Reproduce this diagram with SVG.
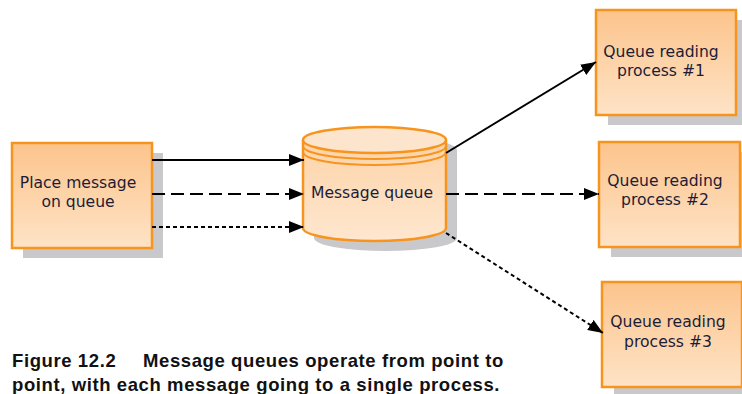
<svg xmlns="http://www.w3.org/2000/svg" width="742" height="394" viewBox="0 0 742 394">
<defs>
<linearGradient id="g" x1="0" y1="0" x2="0" y2="1">
<stop offset="0" stop-color="#fcc48c"/>
<stop offset="1" stop-color="#fee3c6"/>
</linearGradient>
<linearGradient id="gc" x1="0" y1="0" x2="0" y2="1">
<stop offset="0" stop-color="#fdd3a8"/>
<stop offset="1" stop-color="#fee7cf"/>
</linearGradient>
<marker id="ah" viewBox="0 0 15 12" refX="15" refY="6" markerWidth="15" markerHeight="12" markerUnits="userSpaceOnUse" orient="auto">
<path d="M0,0 L15,6 L0,12 z" fill="#000"/>
</marker>
</defs>
<style>
.box{fill:url(#g);stroke:#f7941d;stroke-width:2.5}
.sh{fill:#c9c9cb}
.lbl{font-family:"DejaVu Sans","Liberation Sans",sans-serif;font-size:15.6px;fill:#1c1c36;text-anchor:middle}
.ln{stroke:#000;stroke-width:2;fill:none;marker-end:url(#ah)}
.dash{stroke-dasharray:13 6}
.dot{stroke-dasharray:4 3}
.cap{font-family:"Liberation Sans",Arial,sans-serif;font-size:18.5px;font-weight:bold;letter-spacing:0.6px;fill:#111}
</style>
<rect width="742" height="394" fill="#fff"/>
<g id="place">
<rect class="sh" x="23" y="153" width="140" height="105"/>
<rect class="box" x="12" y="143" width="140" height="105"/>
<text class="lbl" x="78" y="188">Place message</text>
<text class="lbl" x="78" y="207">on queue</text>
</g>
<g id="queue">
<path class="sh" d="M314,150 a71.5,13 0 0 1 143,0 v88 a71.5,13 0 0 1 -143,0 z"/>
<path d="M303,140 v88 a71.5,13 0 0 0 143,0 v-88" fill="url(#gc)" stroke="#f7941d" stroke-width="2.5"/>
<ellipse cx="374.5" cy="140" rx="71.5" ry="13" fill="#fde5cd" stroke="#f7941d" stroke-width="2.5"/>
<path d="M303,146 a71.5,13 0 0 0 143,0 M303,152 a71.5,13 0 0 0 143,0" fill="none" stroke="#f7941d" stroke-width="2"/>
<text class="lbl" x="372" y="198">Message queue</text>
</g>
<g id="reader1">
<rect class="sh" x="608" y="20" width="140" height="105"/>
<rect class="box" x="596" y="10" width="140" height="105"/>
<text class="lbl" x="661" y="57">Queue reading</text>
<text class="lbl" x="661" y="76">process #1</text>
</g>
<g id="reader2">
<rect class="sh" x="611" y="152" width="140" height="105"/>
<rect class="box" x="599" y="142" width="141" height="105"/>
<text class="lbl" x="665" y="186">Queue reading</text>
<text class="lbl" x="665" y="205">process #2</text>
</g>
<g id="reader3">
<rect class="sh" x="614" y="292" width="140" height="105"/>
<rect class="box" x="602" y="282" width="140" height="105"/>
<text class="lbl" x="668" y="327">Queue reading</text>
<text class="lbl" x="668" y="347">process #3</text>
</g>
<g id="connectors">
<line class="ln" x1="152" y1="160" x2="304" y2="160"/>
<line class="ln dash" x1="152" y1="194" x2="304" y2="194"/>
<line class="ln dot" x1="152" y1="227" x2="304" y2="227"/>
<line class="ln" x1="446" y1="153" x2="596" y2="62"/>
<line class="ln dash" x1="446" y1="194" x2="599" y2="194"/>
<line class="ln dot" x1="446" y1="233" x2="603" y2="333"/>
</g>
<g id="caption">
<text class="cap" x="12" y="367">Figure 12.2<tspan x="143">Message queues operate from point to</tspan></text>
<text class="cap" x="12" y="391">point, with each message going to a single process.</text>
</g>
</svg>
